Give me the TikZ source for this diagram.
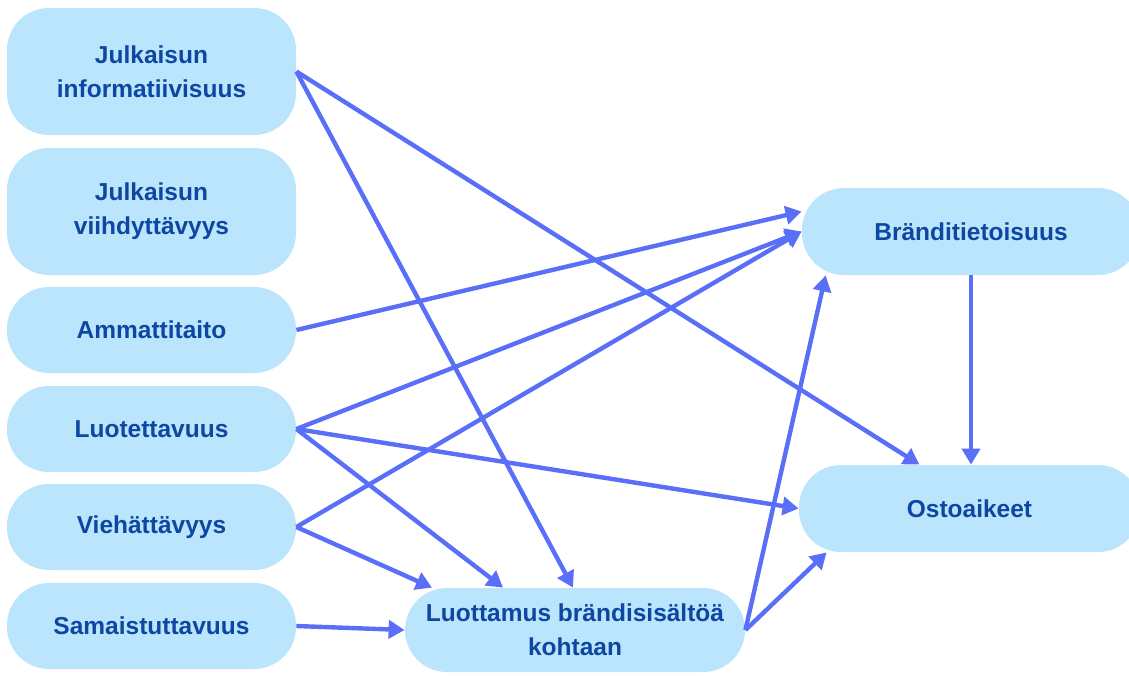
\documentclass[tikz,border=0pt]{standalone}
\usepackage{fontspec}
\setmainfont{Liberation Sans}
\usetikzlibrary{arrows.meta,calc}
\definecolor{boxfill}{HTML}{BBE5FC}
\definecolor{boxtext}{HTML}{0D47A1}
\definecolor{arrowblue}{HTML}{5A6FF8}
\begin{document}
\begin{tikzpicture}[x=0.5pt,y=-0.5pt,
  factor/.style={rectangle, fill=boxfill, draw=none, rounded corners=21pt,
    inner sep=0pt, align=center, text=boxtext,
    font=\fontsize{12.25}{17}\selectfont\bfseries},
  tallbox/.style={factor, minimum width=144.5pt, minimum height=63.5pt},
  shortbox/.style={factor, minimum width=144.5pt, minimum height=43pt},
  link/.style={draw=arrowblue, line width=2.2pt,
    -{Triangle[length=8pt,width=9pt]}}]
\useasboundingbox (0,0) rectangle (1129,675);

% antecedents
\node[tallbox]  (info)  at (151.5,71.5) {Julkaisun\\informatiivisuus};
\node[tallbox]  (viihd) at (151.5,211.5) {Julkaisun\\viihdyttävyys};
\node[shortbox] (amm)   at (151.5,330) {Ammattitaito};
\node[shortbox] (luot)  at (151.5,429) {Luotettavuus};
\node[shortbox] (vieh)  at (151.5,527) {Viehättävyys};
\node[shortbox] (sam)   at (151.5,626) {Samaistuttavuus};

% mediator and outcomes
\node[factor, minimum width=170pt, minimum height=42pt] (trust) at (575,630)
  {Luottamus brändisisältöä\\kohtaan};
\node[factor, minimum width=169pt, minimum height=43.5pt] (brand) at (971,231.5)
  {Bränditietoisuus};
\node[factor, minimum width=170.5pt, minimum height=43.5pt] (ost) at (969.5,508.5)
  {Ostoaikeet};

% paths
\draw[link] (info.east) -- ([xshift=-25pt]ost.north);
\draw[link] (info.east) -- ([xshift=-1pt]trust.north);
\draw[link] (amm.east) -- ([yshift=10pt]brand.west);
\draw[link] (luot.east) -- (brand.west);
\draw[link] (luot.east) -- (ost.west);
\draw[link] (luot.east) -- ([xshift=-36pt]trust.north);
\draw[link] (vieh.east) -- (brand.west);
\draw[link] (vieh.east) -- ([xshift=-71.5pt]trust.north);
\draw[link] (sam.east) -- (trust.west);
\draw[link] (trust.east) -- ([xshift=12pt]brand.south west);
\draw[link] (trust.east) -- ([xshift=14pt]ost.south west);
\draw[link] (brand.south) -- (brand.south |- ost.north);
\end{tikzpicture}
\end{document}
